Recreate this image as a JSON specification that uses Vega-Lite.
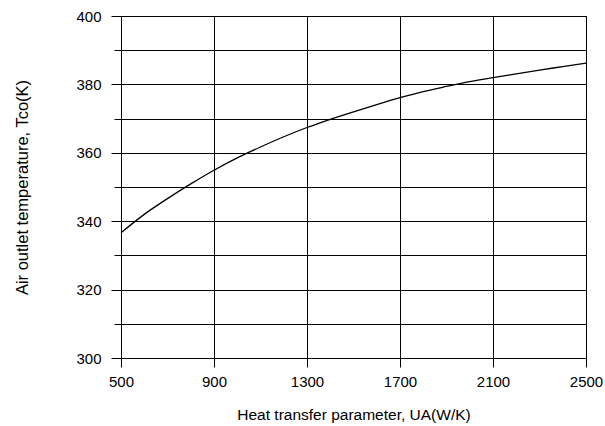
{
  "$schema": "https://vega.github.io/schema/vega-lite/v6.json",
  "width": 465,
  "height": 342,
  "autosize": {"type": "none"},
  "padding": {"left": 121, "top": 16, "right": 19, "bottom": 68},
  "background": "white",
  "config": {
    "view": {"stroke": "#000", "strokeWidth": 1},
    "font": "Liberation Sans",
    "axis": {
      "labelFont": "Liberation Sans",
      "titleFont": "Liberation Sans",
      "labelFontSize": 15,
      "titleFontSize": 15.5,
      "titleFontWeight": "normal",
      "labelColor": "#000",
      "titleColor": "#000",
      "domainColor": "#000",
      "tickColor": "#000",
      "gridColor": "#000",
      "gridOpacity": 1,
      "gridWidth": 1,
      "labelFlush": false,
      "labelOverlap": false
    }
  },
  "data": {
    "values": [
      {"ua": 500, "t": 336.6},
      {"ua": 600, "t": 342.0},
      {"ua": 700, "t": 346.6},
      {"ua": 800, "t": 350.9},
      {"ua": 900, "t": 354.9},
      {"ua": 1000, "t": 358.5},
      {"ua": 1100, "t": 361.7},
      {"ua": 1200, "t": 364.7},
      {"ua": 1300, "t": 367.4},
      {"ua": 1400, "t": 369.8},
      {"ua": 1500, "t": 372.0},
      {"ua": 1600, "t": 374.1},
      {"ua": 1700, "t": 376.1},
      {"ua": 1800, "t": 377.9},
      {"ua": 1900, "t": 379.4},
      {"ua": 2000, "t": 380.8},
      {"ua": 2100, "t": 382.0},
      {"ua": 2200, "t": 383.1},
      {"ua": 2300, "t": 384.2},
      {"ua": 2400, "t": 385.2},
      {"ua": 2500, "t": 386.2}
    ]
  },
  "mark": {"type": "line", "color": "#000", "strokeWidth": 1.3, "interpolate": "monotone"},
  "encoding": {
    "x": {
      "field": "ua",
      "type": "quantitative",
      "scale": {"domain": [500, 2500], "nice": false, "zero": false},
      "axis": {
        "values": [500, 900, 1300, 1700, 2100, 2500],
        "format": "d",
        "title": "Heat transfer parameter, UA(W/K)",
        "tickSize": 9,
        "labelPadding": 7,
        "titlePadding": 18,
        "grid": true
      }
    },
    "y": {
      "field": "t",
      "type": "quantitative",
      "scale": {"domain": [300, 400], "nice": false, "zero": false},
      "axis": {
        "values": [300, 310, 320, 330, 340, 350, 360, 370, 380, 390, 400],
        "labelExpr": "datum.value % 20 === 0 ? datum.label : ''",
        "title": "Air outlet temperature, Tco(K)",
        "titleFontSize": 16.5,
        "tickSize": {"condition": {"test": "datum.value % 20 === 0", "value": 10}, "value": 7},
        "labelPadding": 10,
        "titlePadding": 45,
        "grid": true
      }
    }
  }
}
